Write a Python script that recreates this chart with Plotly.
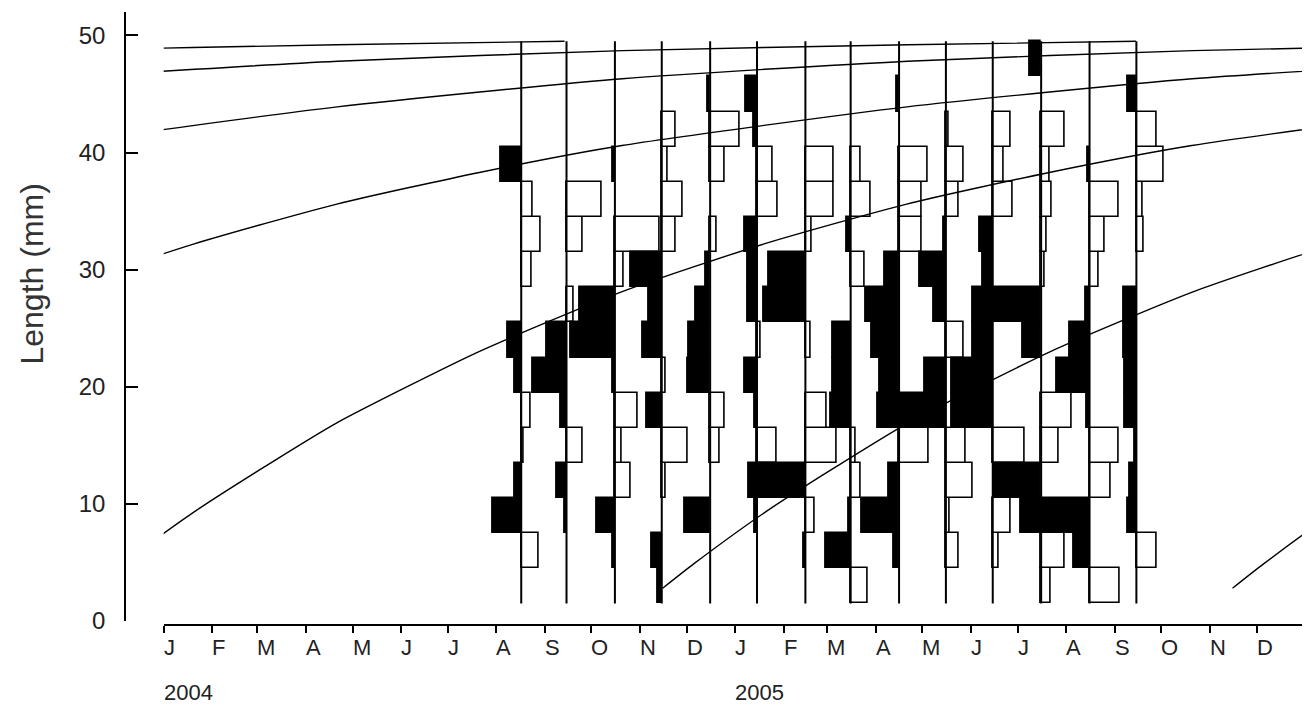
import pandas as pd
import plotly.graph_objects as go

# ---------------- data ----------------
length_class_mid_mm = [3, 6, 9, 12, 15, 18, 21, 24, 27, 30, 33, 36, 39, 42, 45, 48]
length_class_width_mm = 3
length_min_mm = 1.5
length_max_mm = 49.5

sample_dates = ["2004-08-17", "2004-09-15", "2004-10-16", "2004-11-15", "2004-12-16",
                "2005-01-15", "2005-02-15", "2005-03-16", "2005-04-16", "2005-05-16",
                "2005-06-15", "2005-07-16", "2005-08-16", "2005-09-15"]

# restructured frequencies per sample, classes 3 mm ... 48 mm (positive = peak, negative = trough)
rs_2004_08 = [0, 0.25, -0.41, -0.10, 0.03, 0.13, -0.10, -0.19, 0, 0.15, 0.28, 0.17, -0.29, 0, 0, 0]
rs_2004_09 = [0, 0, -0.03, -0.14, 0.23, -0.09, -0.49, -0.29, 0.10, 0, 0.23, 0.50, 0, 0, 0, 0]
rs_2004_10 = [0, -0.03, -0.26, 0.22, 0.10, 0.32, -0.03, -0.63, -0.51, 0.12, 0.64, 0, -0.03, 0, 0, 0]
rs_2004_11 = [-0.06, -0.14, 0, 0.06, 0.37, -0.22, 0.06, -0.27, -0.18, -0.45, 0.20, 0.30, 0.09, 0.20, 0, 0]
rs_2004_12 = [0, 0, -0.37, 0, 0.14, 0.21, -0.32, -0.30, -0.21, -0.07, 0.10, 0, 0.21, 0.42, -0.03, 0]
rs_2005_01 = [0, 0, -0.03, 0, 0.28, -0.03, -0.18, 0.05, -0.13, -0.13, -0.18, 0.30, 0.23, -0.04, -0.16, 0]
rs_2005_02 = [0, -0.03, 0.13, -0.81, 0.45, 0.31, 0, 0.08, -0.60, -0.52, 0.09, 0.40, 0.40, 0, 0, 0]
rs_2005_03 = [0.25, -0.36, -0.03, 0.15, 0.07, -0.29, -0.26, -0.26, 0, 0.20, -0.06, 0.28, 0.15, 0, 0, 0]
rs_2005_04 = [0, -0.08, -0.53, -0.15, 0.42, 0, -0.28, -0.39, -0.48, -0.21, 0.33, 0.33, 0.41, 0, -0.03, 0]
rs_2005_05 = [0, 0.18, 0.05, 0.38, 0.29, -0.98, -0.31, 0.26, -0.17, -0.38, -0.03, 0.19, 0.25, 0.04, 0, 0]
rs_2005_06 = [0, 0.09, 0.25, 0, 0.46, -0.59, -0.59, -0.29, -0.29, -0.15, -0.18, 0.28, 0.15, 0.25, 0, 0]
rs_2005_07 = [0.13, 0.33, 0, -0.68, 0.25, 0.43, 0, -0.26, -0.68, 0.05, 0.08, 0.15, 0.12, 0.33, 0, -0.16]
rs_2005_08 = [0.43, -0.23, -0.99, 0.30, 0.41, -0.04, -0.47, -0.28, -0.06, 0.13, 0.22, 0.41, -0.03, 0, 0, 0]
rs_2005_09 = [0, 0.29, -0.12, -0.09, -0.03, -0.17, -0.17, -0.18, -0.18, 0, 0.10, 0.09, 0.39, 0.29, -0.13, 0]

restructured = [rs_2004_08, rs_2004_09, rs_2004_10, rs_2004_11, rs_2004_12, rs_2005_01, rs_2005_02,
                rs_2005_03, rs_2005_04, rs_2005_05, rs_2005_06, rs_2005_07, rs_2005_08, rs_2005_09]

# growth curve: length at age (years after birth)
growth_age_years = [0.07, 0.125, 0.25, 0.375, 0.5, 0.75, 1.0, 1.25, 1.5, 1.75, 2.0, 2.5, 3.0, 3.5, 4.0, 4.5, 4.9]
growth_length_mm = [2.8, 4.9, 9.3, 13.2, 16.9, 23.0, 28.1, 32.2, 35.6, 38.3, 40.6, 43.9, 46.3, 47.8, 48.7, 49.2, 49.5]
cohort_birth_dates = ["1999-10-21", "2000-10-21", "2001-10-21", "2002-10-21",
                      "2003-10-21", "2004-10-21", "2005-10-21"]

month_letters = ["J", "F", "M", "A", "M", "J", "J", "A", "S", "O", "N", "D"] * 2
year_labels = ["2004", "2005"]
y_ticks = [0, 10, 20, 30, 40, 50]

# ---------------- drawing constants ----------------
DAYS_PER_SCORE = 44.8
MS_PER_DAY = 86400000
FONT = "Liberation Sans, Arial, sans-serif"
TXT = "#222222"

month_ticks = pd.date_range("2004-01-01", "2006-01-01", freq="MS")

fig = go.Figure()

# vertical sample lines
xs, ys = [], []
for d in sample_dates:
    xs += [d, d, None]
    ys += [length_min_mm, length_max_mm, None]
fig.add_trace(go.Scatter(x=xs, y=ys, mode="lines", line=dict(color="black", width=2),
                         hoverinfo="skip", showlegend=False))

# restructured histograms
for d, scores in zip(sample_dates, restructured):
    yy = [m for m, s in zip(length_class_mid_mm, scores) if s != 0]
    ss = [s for s in scores if s != 0]
    fig.add_trace(go.Bar(
        orientation="h", y=yy, x=[s * DAYS_PER_SCORE * MS_PER_DAY for s in ss], base=d,
        width=length_class_width_mm,
        marker=dict(color=["white" if s > 0 else "black" for s in ss],
                    line=dict(color="black", width=1.6)),
        hoverinfo="skip", showlegend=False))

# growth curves
for b in cohort_birth_dates:
    t0 = pd.Timestamp(b)
    cx = [t0 + pd.Timedelta(days=a * 365.25) for a in growth_age_years]
    fig.add_trace(go.Scatter(x=cx, y=growth_length_mm, mode="lines",
                             line=dict(color="black", width=1.4, shape="spline", smoothing=0.6),
                             hoverinfo="skip", showlegend=False))

# month and year labels
annotations = []
for t, lab in zip(month_ticks[:-1], month_letters):
    annotations.append(dict(x=t, y=0, xref="x", yref="paper", text=lab, showarrow=False,
                            xanchor="left", yanchor="middle", yshift=-22, xshift=-2,
                            font=dict(family=FONT, size=22, color=TXT)))
for yl in year_labels:
    annotations.append(dict(x=f"{yl}-01-01", y=0, xref="x", yref="paper", text=yl, showarrow=False,
                            xanchor="left", yanchor="middle", yshift=-67, xshift=-2,
                            font=dict(family=FONT, size=22, color=TXT)))
annotations.append(dict(x=-0.079, y=0.573, xref="paper", yref="paper", text="Length (mm)",
                        showarrow=False, textangle=-90, xanchor="center", yanchor="middle",
                        font=dict(family=FONT, size=32, color="#333333")))

# the page adds an 8 px body margin, so the figure is 8 px smaller each way
fig.update_layout(
    width=1302, height=707,
    margin=dict(l=117, r=5, t=4, b=90),
    plot_bgcolor="white", paper_bgcolor="white",
    barmode="overlay", bargap=0, showlegend=False,
    annotations=annotations,
    xaxis=dict(type="date", range=["2004-01-01", "2006-01-01"], domain=[0.0328, 1],
               anchor="free", position=0, showline=True, linecolor="black", linewidth=1.5,
               showgrid=False, zeroline=False, tickvals=list(month_ticks),
               ticks="outside", ticklen=7, tickwidth=1.5, tickcolor="black",
               showticklabels=False),
    xaxis2=dict(type="date", overlaying="x", matches="x", anchor="free", position=0,
                domain=[0.0328, 1], showline=False, showgrid=False, zeroline=False,
                tickvals=list(month_ticks), ticks="inside", ticklen=8, tickwidth=1.5,
                tickcolor="black", showticklabels=False),
    yaxis=dict(range=[0, 52], domain=[0.0065, 1], anchor="free", position=0,
               showline=True, linecolor="black", linewidth=1.5, showgrid=False, zeroline=False,
               tickvals=y_ticks, ticks="inside", ticklen=12, tickwidth=1.5, tickcolor="black",
               tickfont=dict(family=FONT, size=24, color=TXT), ticklabelstandoff=14),
)

fig.write_html("out.html")
